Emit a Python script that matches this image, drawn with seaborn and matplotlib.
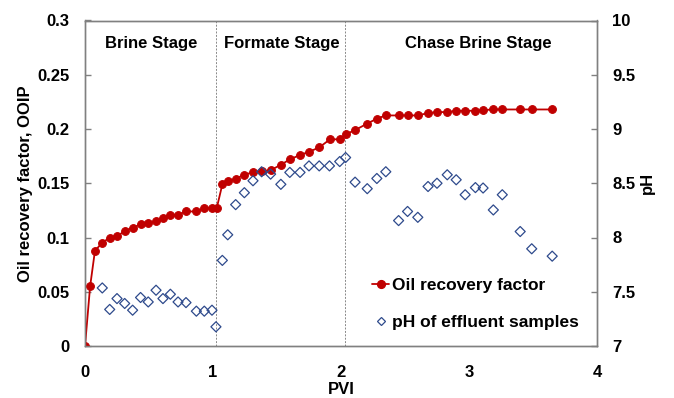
import matplotlib
matplotlib.use("Agg")
import matplotlib.pyplot as plt
import seaborn as sns
import pandas as pd
import numpy as np
from matplotlib.lines import Line2D

pvi = [0, 0.04, 0.078, 0.135, 0.193, 0.25, 0.31, 0.372, 0.434, 0.494, 0.555, 0.609,
       0.667, 0.727, 0.789, 0.87, 0.932, 0.992, 1.029, 1.073, 1.115, 1.177, 1.245,
       1.3125, 1.38, 1.45, 1.53, 1.60, 1.68, 1.75, 1.83, 1.914, 1.99, 2.036, 2.11,
       2.205, 2.28, 2.35, 2.45, 2.52, 2.60, 2.68, 2.75, 2.83, 2.90, 2.97, 3.05,
       3.11, 3.19, 3.26, 3.40, 3.49, 3.65]
recovery = [0, 0.055, 0.088, 0.095, 0.100, 0.101, 0.106, 0.109, 0.112, 0.113, 0.115,
            0.118, 0.121, 0.121, 0.124, 0.124, 0.127, 0.127, 0.127, 0.149, 0.152,
            0.154, 0.158, 0.160, 0.161, 0.162, 0.167, 0.172, 0.176, 0.179, 0.183,
            0.1905, 0.1905, 0.195, 0.199, 0.205, 0.2095, 0.2125, 0.2125, 0.2125,
            0.2125, 0.2147, 0.2156, 0.2156, 0.2168, 0.2168, 0.2168, 0.2174, 0.218,
            0.218, 0.218, 0.218, 0.218]

pvi_ph = [0.135, 0.193, 0.25, 0.31, 0.372, 0.434, 0.494, 0.555, 0.609, 0.667, 0.727,
          0.789, 0.87, 0.932, 0.992, 1.023, 1.073, 1.115, 1.177, 1.245, 1.3125, 1.38,
          1.45, 1.53, 1.60, 1.68, 1.75, 1.83, 1.91, 1.99, 2.036, 2.11, 2.205, 2.28,
          2.35, 2.45, 2.52, 2.60, 2.68, 2.75, 2.83, 2.90, 2.97, 3.05, 3.11, 3.19,
          3.26, 3.40, 3.49, 3.65]
ph = [7.535, 7.337, 7.437, 7.392, 7.330, 7.447, 7.406, 7.514, 7.437, 7.477, 7.406,
      7.400, 7.321, 7.321, 7.330, 7.177, 7.789, 8.025, 8.303, 8.413, 8.523, 8.606,
      8.584, 8.490, 8.600, 8.600, 8.660, 8.660, 8.660, 8.700, 8.737, 8.510, 8.450,
      8.544, 8.606, 8.156, 8.240, 8.186, 8.470, 8.500, 8.578, 8.532, 8.394, 8.460,
      8.456, 8.254, 8.394, 8.055, 7.896, 7.828]

stage_labels = ["Brine Stage", "Formate Stage", "Chase Brine Stage"]
stage_x = [0.52, 1.54, 3.07]
stage_bounds = [1.025, 2.03]

sns.set_theme(style="white")
plt.rcParams['font.family'] = ['Liberation Sans', 'DejaVu Sans']
plt.rcParams['font.weight'] = 'bold'
plt.rcParams['text.color'] = 'black'
plt.rcParams['axes.labelcolor'] = 'black'
plt.rcParams['xtick.color'] = 'black'
plt.rcParams['ytick.color'] = 'black'

red = "#C00000"
blue = "#2E4A8C"
spine_c = "#808080"
fs = 12

fig = plt.figure(figsize=(6.74, 3.98), dpi=100)
ax = fig.add_axes([85/674, 1-346/398, (597-85)/674, (346-20.5)/398])
ax2 = ax.twinx()

df_r = pd.DataFrame({"PVI": pvi, "rec": recovery})
df_p = pd.DataFrame({"PVI": pvi_ph, "pH": ph})

sns.lineplot(data=df_r, x="PVI", y="rec", ax=ax, color=red, marker="o",
             markersize=5.6, markeredgecolor=red, linewidth=1.3, zorder=3)
sns.scatterplot(data=df_p, x="PVI", y="pH", ax=ax2, marker="D", s=26,
                facecolor="none", edgecolor=blue, linewidth=0.9, zorder=2)

for b in stage_bounds:
    ax.axvline(b, color="#888888", linestyle=(0, (2, 1.5)), linewidth=0.7, zorder=1)

for lab, xs in zip(stage_labels, stage_x):
    ax.text(xs, 0.279, lab, ha="center", va="center", fontsize=fs, fontweight="bold")

ax.set_xlim(0, 4)
ax.set_ylim(0, 0.3)
ax2.set_ylim(7, 10)
ax.set_xticks([0, 1, 2, 3, 4])
ax.set_yticks(np.arange(0, 0.31, 0.05))
ax.set_yticklabels(["0", "0.05", "0.1", "0.15", "0.2", "0.25", "0.3"])
ax2.set_yticks([7, 7.5, 8, 8.5, 9, 9.5, 10])
ax2.set_yticklabels(["7", "7.5", "8", "8.5", "9", "9.5", "10"])

ax.set_xlabel("PVI", fontsize=fs, fontweight="bold", labelpad=1)
ax.set_ylabel("Oil recovery factor, OOIP", fontsize=fs, fontweight="bold", labelpad=3)
ax2.set_ylabel("pH", fontsize=fs, fontweight="bold", labelpad=3)

for a in (ax, ax2):
    a.tick_params(direction="in", length=4, width=1, color=spine_c, labelsize=fs,
                  labelcolor="black")
    for s in a.spines.values():
        s.set_color(spine_c)
        s.set_linewidth(1)
ax.tick_params(axis="y", pad=11)
ax.tick_params(axis="x", pad=14)
ax2.tick_params(axis="y", pad=11)
for lbl in ax.get_xticklabels() + ax.get_yticklabels() + ax2.get_yticklabels():
    lbl.set_fontweight("bold")

handles = [Line2D([], [], color=red, marker="o", markersize=5.6, linewidth=1.3),
           Line2D([], [], color=blue, marker="D", markersize=4.2, linestyle="none",
                  markerfacecolor="none", markeredgewidth=0.9)]
if ax.get_legend():
    ax.get_legend().remove()
ax2.legend(handles, ["Oil recovery factor", "pH of effluent samples"],
           loc="lower right", bbox_to_anchor=(0.995, 0.0), frameon=False,
           handlelength=1.0, handletextpad=0.15, labelspacing=1.3,
           prop={"weight": "bold", "size": 12.5})

fig.savefig("out.png", dpi=100)
